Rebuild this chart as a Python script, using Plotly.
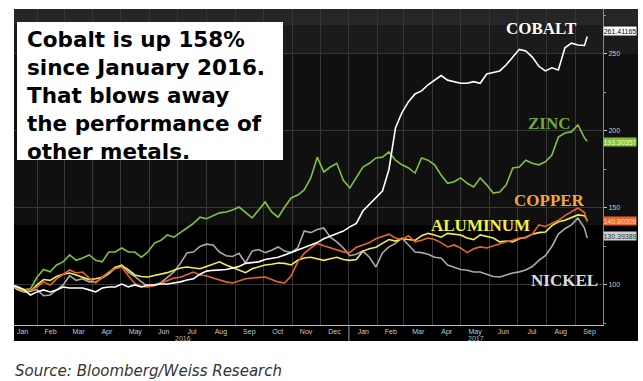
import plotly.graph_objects as go
import pandas as pd

# ---------------- data (weekly readings, indexed, Jan 2016 = 100) ----------------
dates = list(pd.date_range("2016-01-04", periods=89, freq="7D").strftime("%Y-%m-%d")) + ["2017-09-14"]

cobalt = [100, 98.7, 96.8, 93.5, 95.5, 96.8, 95.5, 96.8, 98.7, 98,
          98, 98, 96.8, 95.5, 98, 98.7, 98.7, 100.6, 98.7, 100,
          98.7, 100, 100, 100.6, 100.6, 101.3, 102, 103.2, 104, 107,
          109, 109.5, 109.7, 110, 111, 112, 114, 114.5, 115, 116.5,
          117.5, 118, 119.5, 121, 122.5, 124, 126, 127.5, 130, 131.5,
          133, 135, 137.7, 140, 148, 152.5, 157, 161, 175, 202,
          212, 219, 224, 226, 230, 233, 236, 233, 232, 231,
          231, 232, 231, 237, 238, 239, 243, 248, 253, 252,
          248, 242, 239, 241, 239.6, 254, 257, 255.8, 255.5, 261.4]

zinc = [100, 98.5, 97, 97.5, 105, 110, 108.5, 113, 115, 119.5,
        116, 117.5, 119.5, 116, 115, 121.4, 121.4, 124, 121.4, 121.4,
        118, 121.4, 127, 129, 132.5, 131, 133.8, 137, 140, 144,
        143, 144.8, 146.8, 147.4, 148.7, 150.6, 146.8, 143.5, 148.7, 153.9,
        147.4, 144, 150.6, 156.5, 158.4, 161.7, 169.5, 183, 173.4, 176.6,
        179, 168, 163, 169.5, 176.6, 179, 182.5, 183, 186.4, 181,
        178, 176, 172.7, 182.5, 181, 178, 171.4, 166, 167, 169.5,
        166, 163.6, 169.5, 165, 159.7, 160.4, 165, 176, 176.6, 181,
        179, 178, 180, 184.4, 196, 198.7, 199.4, 204, 195.5, 193.3]

copper = [100, 98, 96, 96.5, 98.7, 102, 100, 104, 107, 109.7,
          107.8, 108.4, 104.5, 101.3, 105, 108.5, 110.5, 111.7, 106, 101,
          99, 98.7, 99.5, 101, 102.5, 104.5, 105, 106.5, 108.4, 106.5,
          106, 104.5, 103.2, 102, 101.3, 102.5, 104, 104.5, 105, 105.2,
          103.5, 102, 101.3, 106, 115, 120.5, 124, 127, 125.5, 124,
          122.7, 121.5, 121, 124.5, 126, 127.5, 130, 131.5, 133, 130.5,
          129.5, 132, 128, 129, 130.5, 129.5, 127.5, 124.7, 126, 124,
          121, 123.5, 124.7, 124, 125.5, 127, 128, 129, 130.5, 130.5,
          133, 139, 138, 140, 142, 145, 147.5, 150, 147, 141]

aluminum = [100, 97, 95.5, 96, 100, 103.5, 103, 105.5, 107, 107.8,
            106.5, 105, 103.5, 104, 105, 108, 111.5, 112.5, 110, 106.5,
            105.5, 105.2, 106, 107, 108, 109.5, 111, 111.7, 111, 110.5,
            112, 113.5, 115, 113, 111.5, 109.5, 108, 110.5, 111.5, 113,
            113.5, 114.3, 114, 113, 116, 117.5, 118, 117, 116, 117,
            118, 116.5, 116, 116.5, 122, 123.5, 124.5, 127, 129.5, 128.5,
            130, 129.5, 129, 132, 133.5, 132.5, 131, 133.5, 133, 132.5,
            130.5, 129.5, 132.5, 131.5, 130.5, 128, 128.5, 128, 130, 131,
            133, 134, 134.4, 138.5, 141, 142, 144, 145.5, 145, 142]

nickel = [100, 99, 97, 96, 97, 93, 93.5, 97, 100, 106,
          103, 104, 102, 102, 104.5, 107, 111, 113, 108.4, 105.5,
          102, 99, 100, 101.5, 105, 108.5, 114, 120.8, 121.4, 125,
          126.5, 126, 121.4, 119, 118.5, 120.5, 114.3, 122, 123, 121,
          122.5, 124.7, 122, 121, 124, 135, 134, 136, 137, 131,
          128, 124, 119, 120, 122, 118, 111.7, 120.8, 124.7, 127,
          130.5, 126, 121.4, 121, 120, 118, 117.5, 113, 111.7, 110,
          109.5, 108.4, 108.4, 107, 105.5, 105.2, 106.5, 107.8, 108.5, 109.7,
          112, 116, 119, 125, 133, 136.5, 139, 143.5, 137, 130.4]

last_values = ["261.41165", "193.30357", "140.80309", "130.39389"]
y_ticks = [100, 150, 200, 250]
year_labels = ["2016", "2017"]

# ---------------- geometry helpers (pixels -> paper) ----------------
W, H = 643, 381
L, R, T, B = 14, 603, 9, 325


def px_x(x):
    return (x - L) / (R - L)


def px_y(y):
    return (B - y) / (B - T)


fig = go.Figure()

series = [
    ("Nickel", nickel, "#a9a9a9"),
    ("Aluminum", aluminum, "#f2ee4c"),
    ("Copper", copper, "#e8642c"),
    ("Zinc", zinc, "#7fc241"),
    ("Cobalt", cobalt, "#ffffff"),
]
for name, vals, col in series:
    fig.add_trace(go.Scatter(x=dates, y=vals, mode="lines", name=name,
                             line=dict(color=col, width=1.6), showlegend=False))

shapes = []
# black chart panel with subtle bands
bands = [(9, 25, "#262626"), (25, 54, "#1b1b1b"), (54, 225, "#101010"), (225, 341, "#000000")]
for y0, y1, c in bands:
    shapes.append(dict(type="rect", xref="paper", yref="paper", layer="below",
                       x0=px_x(14), x1=px_x(638), y0=px_y(y1), y1=px_y(y0),
                       fillcolor=c, line=dict(width=0)))
# year divider tick
shapes.append(dict(type="line", xref="x", yref="paper", x0="2017-01-01", x1="2017-01-01",
                   y0=px_y(341), y1=px_y(325), line=dict(color="#9a9a9a", width=1)))
# white text box
shapes.append(dict(type="rect", xref="paper", yref="paper", layer="above",
                   x0=px_x(17), x1=px_x(283), y0=px_y(160), y1=px_y(22),
                   fillcolor="#ffffff", line=dict(width=0)))

annotations = []
annotations.append(dict(xref="paper", yref="paper", x=px_x(25), y=px_y(25),
                        xanchor="left", yanchor="top", align="left", showarrow=False,
                        text="<b>Cobalt is up 158%<br>since January 2016.<br>That blows away<br>the performance of<br>other metals.</b>",
                        font=dict(family="DejaVu Sans", size=21.5, color="#000000")))

labels = [("COBALT", 541, 28.5, "#ffffff"), ("ZINC", 549, 123.5, "#6fa544"),
          ("COPPER", 549, 200, "#f2a93a"), ("ALUMINUM", 480, 225, "#f5f040"),
          ("NICKEL", 564, 280, "#dcdcdc")]
for txt, x, y, c in labels:
    annotations.append(dict(xref="paper", yref="paper", x=px_x(x), y=px_y(y),
                            xanchor="center", yanchor="middle", showarrow=False,
                            text="<b>%s</b>" % txt,
                            font=dict(family="Liberation Serif", size=17, color=c)))

badges = [(last_values[0], 31, "#ffffff", "#000000"),
          (last_values[1], 141.7, "#7cc33a", "#eaffd8"),
          (last_values[2], 221, "#e8642c", "#ffe0d0"),
          (last_values[3], 236, "#cfcfcf", "#333333")]
for txt, y, bg, fc in badges:
    annotations.append(dict(xref="paper", yref="paper", x=px_x(620.5), y=px_y(y),
                            xanchor="center", yanchor="middle", showarrow=False,
                            text=txt, bgcolor=bg, borderpad=0, width=32, height=8,
                            font=dict(family="Liberation Sans", size=7, color=fc)))

for txt, d in zip(year_labels, ["2016-07-07", "2017-05-18"]):
    annotations.append(dict(xref="x", yref="paper", x=d, y=px_y(338.5),
                            xanchor="center", yanchor="middle", showarrow=False,
                            text=txt, font=dict(family="Liberation Sans", size=7, color="#bbbbbb")))

annotations.append(dict(xref="paper", yref="paper", x=px_x(13), y=px_y(371),
                        xanchor="left", yanchor="middle", showarrow=False,
                        text="<i>Source: Bloomberg/Weiss Research</i>",
                        font=dict(family="DejaVu Sans", size=15, color="#333333")))

fig.update_layout(
    width=W, height=H,
    margin=dict(l=L, r=W - R, t=T, b=H - B, pad=0),
    paper_bgcolor="#ffffff",
    plot_bgcolor="rgba(0,0,0,0)",
    shapes=shapes,
    annotations=annotations,
    xaxis=dict(type="date", range=["2016-01-07 06:00", "2017-09-30 22:00"],
               dtick="M1", tick0="2016-01-01", tickformat="%b", ticklabelmode="period",
               showgrid=True, gridcolor="#363636", gridwidth=1,
               ticks="", ticklabelstandoff=0,
               showline=True, linecolor="#bbbbbb", linewidth=1,
               tickfont=dict(family="Liberation Sans", size=7, color="#c8c8c8"),
               zeroline=False, fixedrange=True),
    yaxis=dict(side="right", range=[74, 279.2], tickvals=y_ticks,
               showgrid=True, gridcolor="#363636", gridwidth=1,
               ticks="outside", ticklen=3, tickcolor="#cccccc",
               minor=dict(tickvals=[75, 125, 175, 225, 275], ticks="outside", ticklen=2,
                          tickcolor="#999999", showgrid=False),
               showline=True, linecolor="#888888", linewidth=1,
               tickfont=dict(family="Liberation Sans", size=7, color="#cccccc"),
               zeroline=False, fixedrange=True),
)

fig.write_html("out.html", post_script="document.body.style.margin='0';",
               config={"displayModeBar": False})
